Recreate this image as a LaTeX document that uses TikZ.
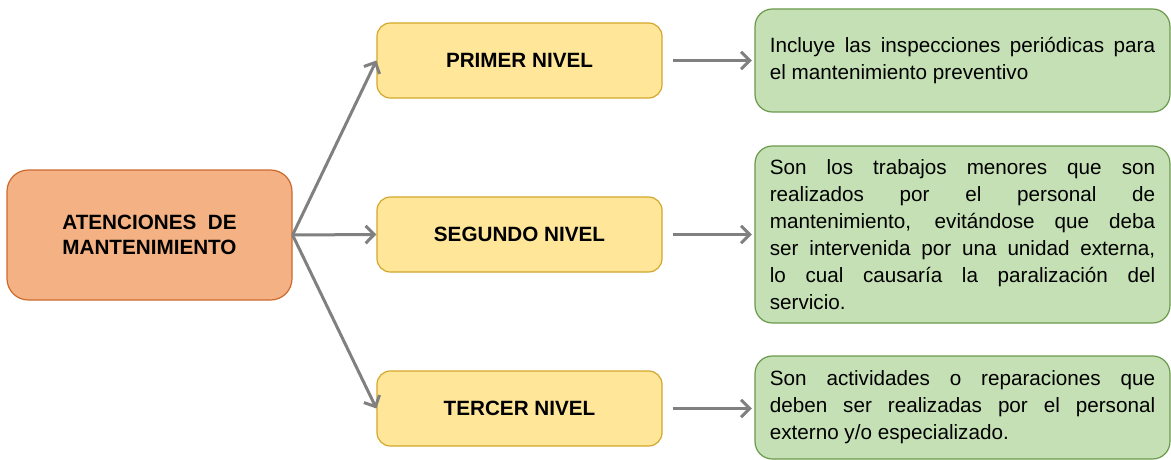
\documentclass[tikz,border=0pt]{standalone}
\usepackage{fontspec}
\usepackage{calc}
\setmainfont{Liberation Sans}
\usetikzlibrary{arrows.meta}
\definecolor{naranja}{HTML}{F4B183}
\definecolor{bordenaranja}{HTML}{CC6A2E}
\definecolor{amarillo}{HTML}{FFE699}
\definecolor{bordeamarillo}{HTML}{D2A72A}
\definecolor{verde}{HTML}{C5E0B4}
\definecolor{bordeverde}{HTML}{6A9A4C}
\definecolor{gris}{HTML}{808080}
\hyphenpenalty=10000
\tikzset{
  atencion/.style={draw=bordenaranja, fill=naranja, line width=0.9pt, rounded corners=16pt,
    minimum width=213.75pt, minimum height=97.5pt, align=center,
    font=\bfseries\fontsize{15.5}{19}\selectfont},
  nivel/.style={draw=bordeamarillo, fill=amarillo, line width=0.9pt, rounded corners=10pt,
    minimum width=213.75pt, minimum height=56.25pt,
    font=\bfseries\fontsize{15.5}{19}\selectfont},
  detalle/.style={draw=bordeverde, fill=verde, line width=0.9pt, rounded corners=13pt,
    text width=289pt, inner xsep=11.1pt, align=justify,
    font=\fontsize{15.5}{20.25}\selectfont},
  flecha/.style={draw=gris, line width=2.25pt, -{Straight Barb[length=6.5pt,width=13pt]}}
}
\begin{document}
\begin{tikzpicture}[x=0.75pt,y=-0.75pt]
                \useasboundingbox (0,0) rectangle (1171,460);
                % caja principal
                \node [atencion] (at) at (149.5,235)
                    {\makebox[\widthof{MANTENIMIENTO}][s]{ATENCIONES DE}\\MANTENIMIENTO};
                % niveles
                \node [nivel] (n1) at (519.5,60.5) {PRIMER NIVEL};
                \node [nivel] (n2) at (519.5,234.5) {SEGUNDO NIVEL};
                \node [nivel] (n3) at (519.5,408.5) {TERCER NIVEL};
                % descripciones
                \node [detalle, minimum height=77.25pt] (d1) at (962.5,60.5)
                    {Incluye las inspecciones periódicas para\linebreak el mantenimiento preventivo};
                \node [detalle, minimum height=132.75pt] (d2) at (962.5,234.5)
                    {Son los trabajos menores que son\linebreak realizados por el personal de\linebreak mantenimiento, evitándose que deba\linebreak ser intervenida por una unidad externa,\linebreak lo cual causaría la paralización del\linebreak servicio.};
                \node [detalle, minimum height=77.25pt] (d3) at (962.5,407.5)
                    {Son actividades o reparaciones que\linebreak deben ser realizadas por el personal\linebreak externo y/o especializado.};
                \draw [flecha] (at.east) -- (n1.west);
                \draw [flecha] (at.east) -- (n2.west);
                \draw [flecha] (at.east) -- (n3.west);
                \draw [flecha, shorten <=7.5pt, shorten >=2pt] (n1.east) -- (d1.west |- n1.east);
                \draw [flecha, shorten <=7.5pt, shorten >=2pt] (n2.east) -- (d2.west |- n2.east);
                \draw [flecha, shorten <=7.5pt, shorten >=2pt] (n3.east) -- (d3.west |- n3.east);
\end{tikzpicture}
\end{document}
